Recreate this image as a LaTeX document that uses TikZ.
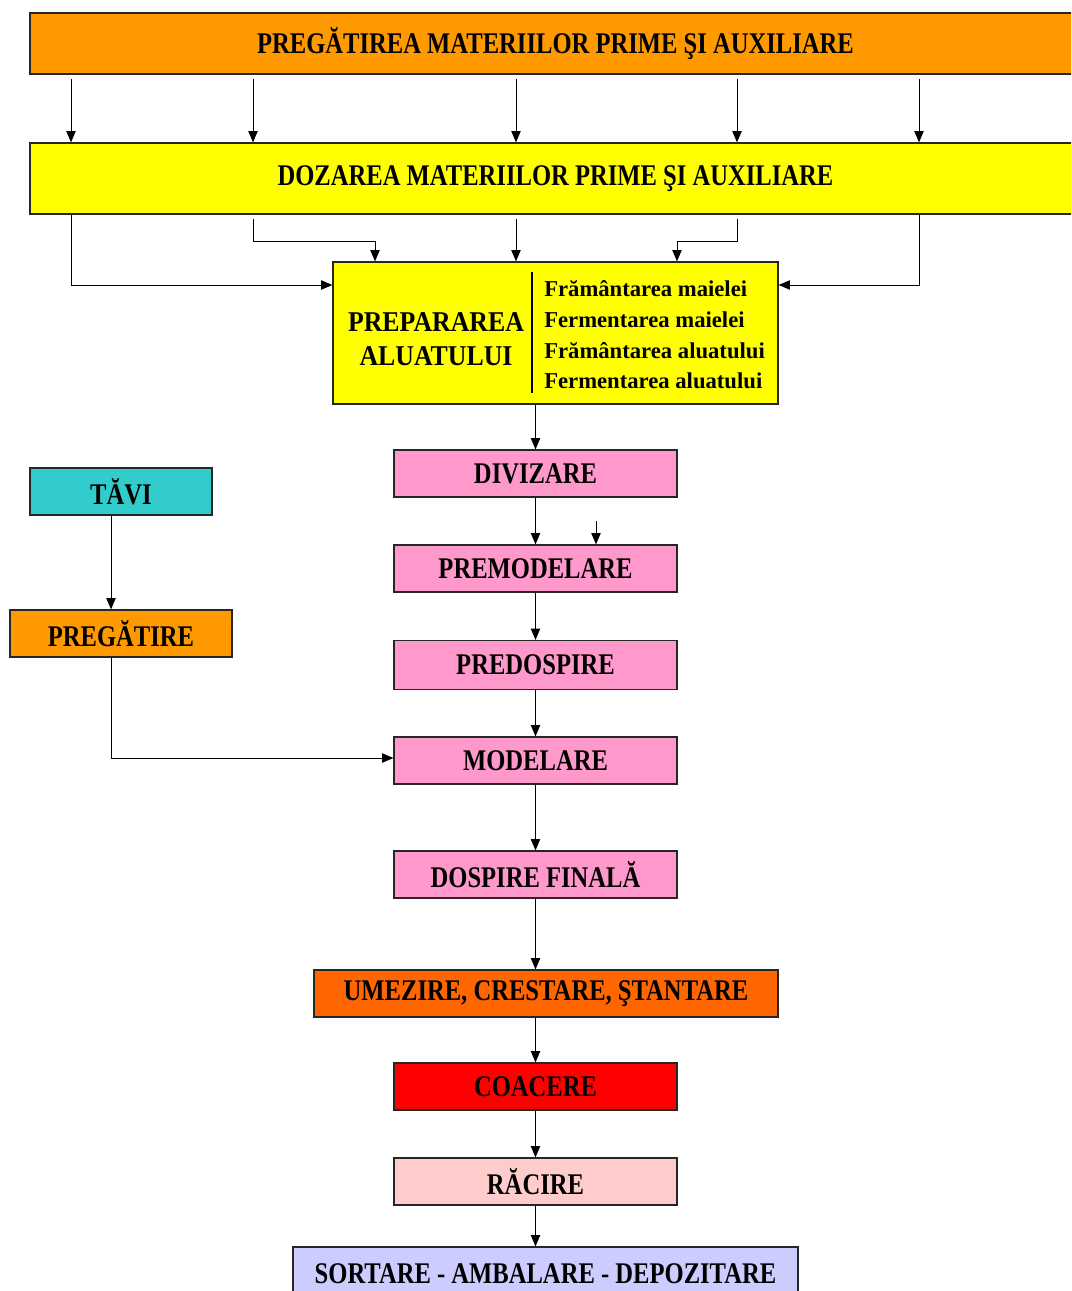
\documentclass[tikz,border=0pt]{standalone}
\usepackage{fontspec}
\setmainfont{Liberation Serif}
\newfontfamily\boxfont{Liberation Serif}[FakeStretch=0.82]
\newfontfamily\prepfont{Liberation Serif}[FakeStretch=0.9]
\usetikzlibrary{arrows.meta}
\definecolor{cOrange}{HTML}{FF9900}
\definecolor{cYellow}{HTML}{FFFF00}
\definecolor{cPink}{HTML}{FF99CC}
\definecolor{cTeal}{HTML}{33CCCC}
\definecolor{cDeepOrange}{HTML}{FF6600}
\definecolor{cRed}{HTML}{FF0000}
\definecolor{cRose}{HTML}{FFCCCC}
\definecolor{cLavender}{HTML}{CCCCFF}
% one drawing unit
\newdimen\pxu \pxu=0.75pt
\tikzset{
  stagebox/.style={draw=black!85, line width=0.9pt, rectangle, inner sep=0pt,
    font=\boxfont\bfseries\fontsize{22.5}{26}\selectfont, text=black},
  arr/.style={draw=black, line width=0.75pt, -{Triangle[length=8.5pt,width=7pt]}},
}
\begin{document}
\begin{tikzpicture}[x=0.75pt,y=-0.75pt]
\clip (0,0) rectangle (1071,1291);
\fill[white] (0,0) rectangle (1071,1291);

% raw materials
\node[stagebox, fill=cOrange, minimum width=1051\pxu, minimum height=61\pxu] (top) at (555.5,43.5)
  {PREGĂTIREA MATERIILOR PRIME ŞI AUXILIARE};
\node[stagebox, fill=cYellow, minimum width=1051\pxu, minimum height=71\pxu] (doz) at (555.5,178.5)
  {DOZAREA MATERIILOR PRIME ŞI AUXILIARE};

% dough preparation
\node[stagebox, fill=cYellow, minimum width=445\pxu, minimum height=142\pxu] (prep) at (555.5,333) {};
\node[font=\prepfont\bfseries\fontsize{21.5}{25.5}\selectfont, align=center, inner sep=0pt]
  (prepL) at (436,339) {PREPARAREA\\ALUATULUI};
\node[font=\bfseries\fontsize{17}{23}\selectfont, align=left, anchor=west, inner sep=0pt]
  (prepR) at (544,335) {Frământarea maielei\\Fermentarea maielei\\Frământarea aluatului\\Fermentarea aluatului};
\draw[line width=1pt] (532,272) -- (532,393);

% main line
\node[stagebox, fill=cPink, minimum width=283\pxu, minimum height=47\pxu] (div) at (535.5,473.5) {DIVIZARE};
\node[stagebox, fill=cPink, minimum width=283\pxu, minimum height=47\pxu] (premod) at (535.5,568.5) {PREMODELARE};
\node[stagebox, fill=cPink, minimum width=283\pxu, minimum height=49\pxu] (predosp) at (535.5,665) {PREDOSPIRE};
\node[stagebox, fill=cPink, minimum width=283\pxu, minimum height=47\pxu] (model) at (535.5,760.5) {MODELARE};
\node[stagebox, fill=cPink, minimum width=283\pxu, minimum height=47\pxu] (dosp) at (535.5,874.5) {DOSPIRE FINALĂ};
\node[stagebox, fill=cDeepOrange, minimum width=464\pxu, minimum height=47\pxu] (umez) at (546,993.5) {UMEZIRE, CRESTARE, ŞTANTARE};
\node[stagebox, fill=cRed, minimum width=283\pxu, minimum height=47\pxu] (coac) at (535.5,1086.5) {COACERE};
\node[stagebox, fill=cRose, minimum width=283\pxu, minimum height=47\pxu] (rac) at (535.5,1181.5) {RĂCIRE};
\node[stagebox, fill=cLavender, minimum width=505\pxu, minimum height=54\pxu] (sort) at (545.5,1274) {SORTARE - AMBALARE - DEPOZITARE};

% trays
\node[stagebox, fill=cTeal, minimum width=182\pxu, minimum height=47\pxu] (tavi) at (121,491.5) {TĂVI};
\node[stagebox, fill=cOrange, minimum width=222\pxu, minimum height=47\pxu] (preg) at (121,633.5) {PREGĂTIRE};

% raw materials to dosing
\foreach \xx in {71,253,516,737,919}
  \draw[arr] ([yshift=-4\pxu]top.south -| \xx,0) -- (doz.north -| \xx,0);

% dosing to dough preparation
\draw[arr] (doz.south -| 71,0) -- (71,285) -- (prep.west |- 0,285);
\draw[arr] ([yshift=-4\pxu]doz.south -| 253,0) -- (253,242) -- (375,242) -- (prep.north -| 375,0);
\draw[arr] ([yshift=-4\pxu]doz.south -| 516,0) -- (prep.north -| 516,0);
\draw[arr] ([yshift=-4\pxu]doz.south -| 737,0) -- (737,242) -- (677,242) -- (prep.north -| 677,0);
\draw[arr] (doz.south -| 919,0) -- (919,285) -- (prep.east |- 0,285);

% process chain
\draw[arr] (prep.south -| div.north) -- (div.north);
\draw[arr] (div) -- (premod);
\coordinate (side) at (596,521);
\draw[arr] (side) -- (premod.north -| side);
\draw[arr] (premod) -- (predosp);
\draw[arr] (predosp) -- (model);
\draw[arr] (model) -- (dosp);
\draw[arr] (dosp.south) -- (umez.north -| dosp.south);
\draw[arr] (umez.south -| coac.north) -- (coac.north);
\draw[arr] (coac) -- (rac);
\draw[arr] (rac.south) -- (sort.north -| rac.south);

% trays branch
\draw[arr] (tavi.south -| 111,0) -- (preg.north -| 111,0);
\draw[arr] (preg.south -| 111,0) -- (111,758) -- (model.west |- 0,758);
\end{tikzpicture}
\end{document}
